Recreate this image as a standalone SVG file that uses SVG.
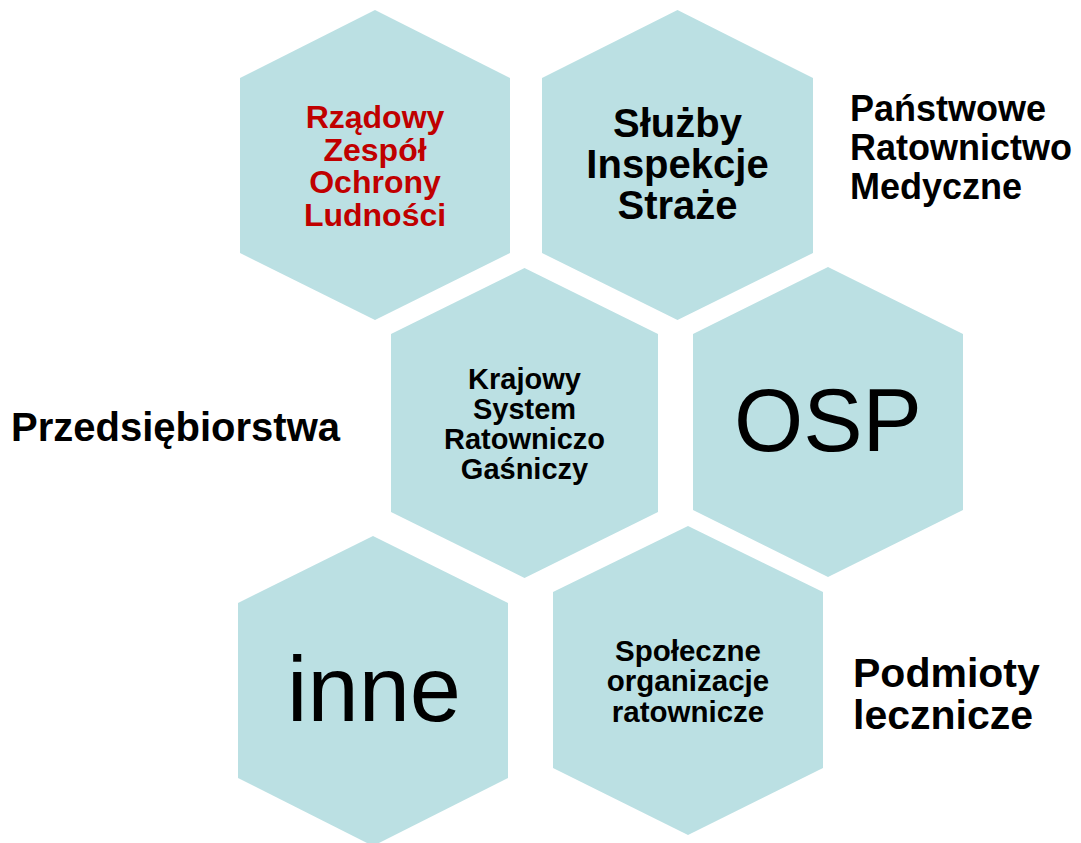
<svg xmlns="http://www.w3.org/2000/svg" width="1081" height="843" viewBox="0 0 1081 843">
<style>
.hex{fill:#BBE0E3;}
.b{font-family:"Liberation Sans",Arial,sans-serif;font-weight:bold;fill:#000;}
.r{font-family:"Liberation Sans",Arial,sans-serif;font-weight:normal;fill:#000;}
.red{fill:#C00000;}
</style>
<rect width="1081" height="843" fill="#fff"/>
<g id="hex-rzadowy">
<polygon class="hex" points="375,10 510,78 510,253 375,320 240,253 240,78"/>
<text class="b red" font-size="32" text-anchor="middle">
<tspan x="375" y="127.5">Rządowy</tspan><tspan x="375" y="160.5">Zespół</tspan><tspan x="375" y="193">Ochrony</tspan><tspan x="375" y="225.5">Ludności</tspan>
</text>
</g>
<g id="hex-sluzby">
<polygon class="hex" points="677.5,10 813,78 813,253 677.5,320 542,253 542,78"/>
<text class="b" font-size="40" text-anchor="middle">
<tspan x="677.5" y="137">Służby</tspan><tspan x="677.5" y="178">Inspekcje</tspan><tspan x="677.5" y="219">Straże</tspan>
</text>
</g>
<g id="hex-ksrg">
<polygon class="hex" points="524.5,268 658,334 658,512 524.5,578 391,512 391,334"/>
<text class="b" font-size="29" text-anchor="middle">
<tspan x="524.5" y="389">Krajowy</tspan><tspan x="524.5" y="419">System</tspan><tspan x="524.5" y="449">Ratowniczo</tspan><tspan x="524.5" y="478.5">Gaśniczy</tspan>
</text>
</g>
<g id="hex-osp">
<polygon class="hex" points="828,267 963,334 963,510 828,577 693,510 693,334"/>
<text class="r" font-size="89" text-anchor="middle" x="828" y="451">OSP</text>
</g>
<g id="hex-inne">
<polygon class="hex" points="373,536 508,603 508,778 373,846 238,778 238,603"/>
<text class="r" font-size="92" text-anchor="middle" x="374" y="721">inne</text>
</g>
<g id="hex-spoleczne">
<polygon class="hex" points="688,526 823,592 823,768 688,835 553,768 553,592"/>
<text class="b" font-size="29.5" text-anchor="middle">
<tspan x="688" y="660.5">Społeczne</tspan><tspan x="688" y="691">organizacje</tspan><tspan x="688" y="721.5">ratownicze</tspan>
</text>
</g>
<g id="label-prm">
<text class="b" font-size="36">
<tspan x="850" y="121">Państwowe</tspan><tspan x="850" y="160">Ratownictwo</tspan><tspan x="850" y="199">Medyczne</tspan>
</text>
</g>
<g id="label-przedsiebiorstwa">
<text class="b" font-size="40" x="11" y="441">Przedsiębiorstwa</text>
</g>
<g id="label-podmioty">
<text class="b" font-size="41">
<tspan x="853" y="687">Podmioty</tspan><tspan x="853" y="729">lecznicze</tspan>
</text>
</g>
<g id="connectors"></g>
</svg>
